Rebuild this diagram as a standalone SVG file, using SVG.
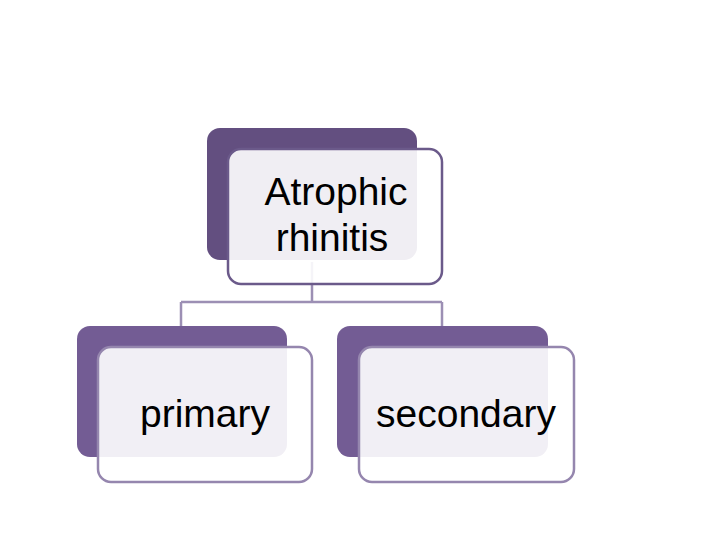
<svg xmlns="http://www.w3.org/2000/svg" width="720" height="540" viewBox="0 0 720 540">
<style>
.back1{fill:#634F80}
.back2{fill:#735C94}
.front{fill:#ffffff;fill-opacity:0.9;stroke-width:2.5}
.f1{stroke:#6B5A8A}
.f2{stroke:#9586AE}
.lbl{font-family:"Liberation Sans",Arial,sans-serif;font-size:39px;fill:#000;text-anchor:middle}
.conn{fill:none;stroke:#9C8FB4;stroke-width:2.5}
</style>
<rect width="720" height="540" fill="#ffffff"/>
<g id="connectors">
<path class="conn" d="M312 262 V302 M181 302 H442 M181 302 V326 M442 302 V326"/>
</g>
<g id="node-root">
<rect class="back1" x="207" y="128" width="210" height="132" rx="13"/>
<rect class="front f1" x="228" y="149" width="214" height="135" rx="13"/>
<text class="lbl" x="336" y="205">Atrophic</text>
<text class="lbl" x="332" y="251">rhinitis</text>
</g>
<g id="node-primary">
<rect class="back2" x="77" y="326" width="210" height="131" rx="13"/>
<rect class="front f2" x="98" y="347" width="214" height="135" rx="13"/>
<text class="lbl" x="205" y="427">primary</text>
</g>
<g id="node-secondary">
<rect class="back2" x="337" y="326" width="211" height="131" rx="13"/>
<rect class="front f2" x="359" y="347" width="215" height="135" rx="13"/>
<text class="lbl" x="466" y="427">secondary</text>
</g>
</svg>
